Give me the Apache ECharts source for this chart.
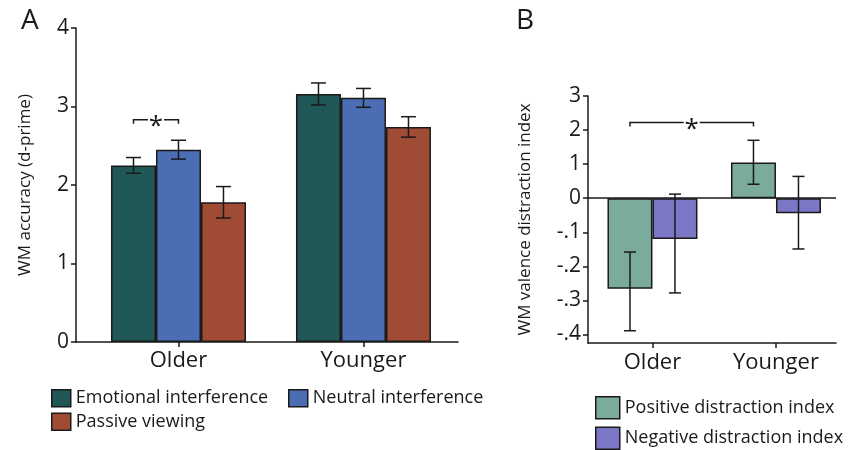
<!DOCTYPE html>
<html>
<head>
<meta charset="utf-8">
<script src="https://cdn.jsdelivr.net/npm/echarts@6/dist/echarts.min.js"></script>
<style>html,body{margin:0;padding:0;background:#fff}#c{width:850px;height:450px}</style>
</head>
<body>
<div id="c"></div>
<script>
// ---------- DATA ----------
const categories = ['Older', 'Younger'];
// Panel A: WM accuracy (d-prime)
const emotional = [2.25, 3.16];
const emotionalErr = [0.10, 0.14];
const neutral = [2.45, 3.11];
const neutralErr = [0.12, 0.12];
const passive = [1.78, 2.74];
const passiveErr = [0.20, 0.13];
// Panel B: WM valence distraction index (axis units; labels below)
const positive = [-2.66, 1.05];
const positiveLow = [-3.89, 0.41];
const positiveHigh = [-1.58, 1.70];
const negative = [-1.20, -0.44];
const negativeLow = [-2.78, -1.49];
const negativeHigh = [0.12, 0.64];
const bTickValues = [-4, -3, -2, -1, 0, 1, 2, 3];
const bTickLabels = ['-.4', '-.3', '-.2', '-.1', '0', '1', '2', '3'];
// significance brackets: [cat1, barIdx1, cat2, barIdx2, y]
const sigA = [[0, 0, 0, 1, 2.83]];
const sigB = [[0, 0, 1, 0, 2.22]];

// ---------- STYLE ----------
const FONT = 'Open Sans';
const INK = '#1a1a1a';
const C_EMO = '#1f5856', C_NEU = '#4a6db3', C_PAS = '#a04b34';
const C_POS = '#7aab9c', C_NEG = '#7b77c6';
const BW_A = 45, BW_B = 45;
const catIdx = categories.map((c, i) => i);

function pairs(v) { return v.map((d, i) => [i, d]); }
function errRender(k, n, bw, cap) {
  return function (params, api) {
    const c = api.value(0);
    const lo = api.coord([c, api.value(1)]);
    const hi = api.coord([c, api.value(2)]);
    const x = lo[0] + (k - (n - 1) / 2) * bw;
    const st = { stroke: INK, lineWidth: 1.5 };
    return { type: 'group', children: [
      { type: 'line', shape: { x1: x, y1: lo[1], x2: x, y2: hi[1] }, style: st },
      { type: 'line', shape: { x1: x - cap / 2, y1: lo[1], x2: x + cap / 2, y2: lo[1] }, style: st },
      { type: 'line', shape: { x1: x - cap / 2, y1: hi[1], x2: x + cap / 2, y2: hi[1] }, style: st }
    ] };
  };
}
function sigRender(n, bw, gap) {
  return function (params, api) {
    const p1 = api.coord([api.value(0), api.value(4)]);
    const p2 = api.coord([api.value(2), api.value(4)]);
    const x1 = p1[0] + (api.value(1) - (n - 1) / 2) * bw;
    const x2 = p2[0] + (api.value(3) - (n - 1) / 2) * bw;
    const y = p1[1];
    const xm = (x1 + x2) / 2;
    const st = { stroke: INK, lineWidth: 1.5, fill: null };
    return { type: 'group', children: [
      { type: 'polyline', shape: { points: [[x1, y + 4], [x1, y], [xm - gap, y]] }, style: st },
      { type: 'polyline', shape: { points: [[xm + gap, y], [x2, y], [x2, y + 4]] }, style: st },
      { type: 'text', x: xm, y: y + 7, style: { text: '*', fill: INK, font: '26px "' + FONT + '"', align: 'center', verticalAlign: 'middle' } }
    ] };
  };
}
function errData(v, e) { return v.map((d, i) => [i, d - e[i], d + e[i]]); }
function errDataLH(lo, hi) { return lo.map((d, i) => [i, d, hi[i]]); }

const tickStyle = { color: INK, width: 1.5 };
const barBorder = { borderColor: INK, borderWidth: 1.5 };
const legendText = { fontFamily: FONT, fontSize: 18, color: INK };
const catLabel = { fontSize: 22, color: INK, fontFamily: FONT, customValues: catIdx,
  formatter: v => categories[Math.round(v)] || '' };

const chart = echarts.init(document.getElementById('c'), null, { renderer: 'canvas' });
chart.setOption({
  animation: false,
  textStyle: { fontFamily: FONT },
  graphic: [
    { type: 'text', left: 21, top: 7, style: { text: 'A', font: '28px "' + FONT + '"', fill: INK } },
    { type: 'text', left: 516, top: 7, style: { text: 'B', font: '28px "' + FONT + '"', fill: INK } }
  ],
  grid: [
    { left: 76, top: 28, width: 382, height: 314 },
    { left: 588, top: 96, width: 248, height: 247 }
  ],
  xAxis: [
    { type: 'value', gridIndex: 0, min: -0.554, max: 1.511, splitLine: { show: false },
      axisLine: { show: true, onZero: false, lineStyle: tickStyle },
      axisTick: { show: true, customValues: catIdx, length: 5, lineStyle: tickStyle },
      axisLabel: Object.assign({ margin: 8 }, catLabel) },
    { type: 'value', gridIndex: 1, min: -0.522, max: 1.486, splitLine: { show: false },
      axisLine: { show: true, onZero: false, lineStyle: tickStyle },
      axisTick: { show: true, customValues: catIdx, length: 5, lineStyle: tickStyle },
      axisLabel: Object.assign({ margin: 9 }, catLabel) }
  ],
  yAxis: [
    { type: 'value', gridIndex: 0, min: 0, max: 4, interval: 1,
      axisLine: { show: true, onZero: false, lineStyle: tickStyle },
      axisTick: { show: true, length: 5, lineStyle: tickStyle },
      splitLine: { show: false },
      axisLabel: { fontSize: 21, color: INK, margin: 7, fontFamily: FONT },
      name: 'WM accuracy (d-prime)', nameLocation: 'middle', nameGap: 42,
      nameTextStyle: { fontSize: 17, color: INK, fontFamily: FONT } },
    { type: 'value', gridIndex: 1, min: -4.25, max: 3,
      axisLine: { show: true, onZero: false, lineStyle: tickStyle },
      axisTick: { show: true, length: 5, customValues: bTickValues, lineStyle: tickStyle },
      splitLine: { show: false },
      axisLabel: { fontSize: 21, color: INK, margin: 7, fontFamily: FONT, customValues: bTickValues,
        formatter: v => { const i = bTickValues.indexOf(Math.round(v)); return i >= 0 ? bTickLabels[i] : ''; } },
      name: 'WM valence distraction index', nameLocation: 'middle', nameGap: 54,
      nameTextStyle: { fontSize: 17, color: INK, fontFamily: FONT } }
  ],
  legend: [
    { left: 51, top: 389, orient: 'vertical', padding: 0, itemGap: 5, itemWidth: 19, itemHeight: 17,
      icon: 'rect', data: ['Emotional interference', 'Passive viewing'], textStyle: legendText,
      itemStyle: { borderColor: INK, borderWidth: 1.5 } },
    { left: 288, top: 389, orient: 'vertical', padding: 0, itemGap: 5, itemWidth: 19, itemHeight: 17,
      icon: 'rect', data: ['Neutral interference'], textStyle: legendText,
      itemStyle: { borderColor: INK, borderWidth: 1.5 } },
    { left: 595, top: 396, height: 56, orient: 'vertical', padding: 0, itemGap: 7, itemWidth: 24, itemHeight: 22,
      icon: 'rect', data: ['Positive distraction index', 'Negative distraction index'], textStyle: legendText,
      itemStyle: { borderColor: INK, borderWidth: 1.5 } }
  ],
  series: [
    { type: 'bar', name: 'Emotional interference', xAxisIndex: 0, yAxisIndex: 0, data: pairs(emotional),
      barWidth: BW_A, barGap: '0%', itemStyle: Object.assign({ color: C_EMO }, barBorder) },
    { type: 'bar', name: 'Neutral interference', xAxisIndex: 0, yAxisIndex: 0, data: pairs(neutral),
      barWidth: BW_A, barGap: '0%', itemStyle: Object.assign({ color: C_NEU }, barBorder) },
    { type: 'bar', name: 'Passive viewing', xAxisIndex: 0, yAxisIndex: 0, data: pairs(passive),
      barWidth: BW_A, barGap: '0%', itemStyle: Object.assign({ color: C_PAS }, barBorder) },
    { type: 'custom', xAxisIndex: 0, yAxisIndex: 0, z: 5, renderItem: errRender(0, 3, BW_A, 15), data: errData(emotional, emotionalErr) },
    { type: 'custom', xAxisIndex: 0, yAxisIndex: 0, z: 5, renderItem: errRender(1, 3, BW_A, 15), data: errData(neutral, neutralErr) },
    { type: 'custom', xAxisIndex: 0, yAxisIndex: 0, z: 5, renderItem: errRender(2, 3, BW_A, 15), data: errData(passive, passiveErr) },
    { type: 'custom', xAxisIndex: 0, yAxisIndex: 0, z: 5, renderItem: sigRender(3, BW_A, 8), data: sigA },

    { type: 'bar', name: 'Positive distraction index', xAxisIndex: 1, yAxisIndex: 1, data: pairs(positive),
      barWidth: BW_B, barGap: '0%', itemStyle: Object.assign({ color: C_POS }, barBorder),
      markLine: { silent: true, symbol: 'none', label: { show: false }, lineStyle: { color: INK, width: 1.5, type: 'solid' }, data: [{ yAxis: 0 }] } },
    { type: 'bar', name: 'Negative distraction index', xAxisIndex: 1, yAxisIndex: 1, data: pairs(negative),
      barWidth: BW_B, barGap: '0%', itemStyle: Object.assign({ color: C_NEG }, barBorder) },
    { type: 'custom', xAxisIndex: 1, yAxisIndex: 1, z: 5, renderItem: errRender(0, 2, BW_B, 12), data: errDataLH(positiveLow, positiveHigh) },
    { type: 'custom', xAxisIndex: 1, yAxisIndex: 1, z: 5, renderItem: errRender(1, 2, BW_B, 12), data: errDataLH(negativeLow, negativeHigh) },
    { type: 'custom', xAxisIndex: 1, yAxisIndex: 1, z: 5, renderItem: sigRender(2, BW_B, 8), data: sigB }
  ]
});
</script>
</body>
</html>
